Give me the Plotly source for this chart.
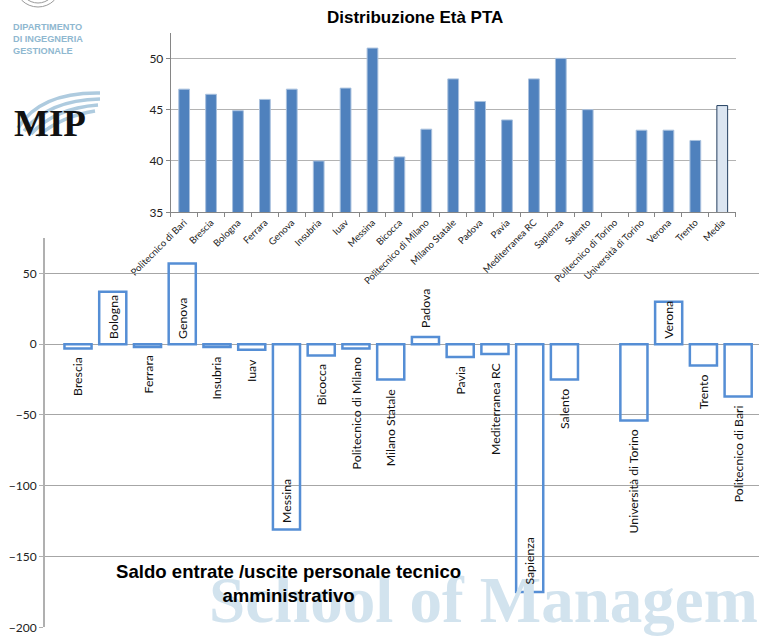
import plotly.graph_objects as go

# ---------------- data ----------------
age_categories = ["Politecnico di Bari", "Brescia", "Bologna", "Ferrara", "Genova", "Insubria",
                  "Iuav", "Messina", "Bicocca", "Politecnico di Milano", "Milano Statale",
                  "Padova", "Pavia", "Mediterranea RC", "Sapienza", "Salento",
                  "Politecnico di Torino", "Università di Torino", "Verona", "Trento", "Media"]
age_values = [47.0, 46.5, 44.9, 46.0, 47.0, 40.0, 47.1, 51.0, 40.4, 43.1, 48.0,
              45.8, 44.0, 48.0, 50.0, 45.0, None, 43.0, 43.0, 42.0, 45.4]

saldo_categories = ["Brescia", "Bologna", "Ferrara", "Genova", "Insubria", "Iuav", "Messina",
                    "Bicocca", "Politecnico di Milano", "Milano Statale", "Padova", "Pavia",
                    "Mediterranea RC", "Sapienza", "Salento", "Politecnico di Torino",
                    "Università di Torino", "Verona", "Trento", "Politecnico di Bari"]
saldo_values = [-3, 37, -2, 57, -2, -4, -131, -8, -3, -25, 5, -9, -7, -175, -25, None,
                -54, 30, -15, -37]

age_ticks = [35, 40, 45, 50]
saldo_ticks = [-200, -150, -100, -50, 0, 50]

W, H = 759, 637
def px(x):
    return x / W
def py(y):
    return 1 - y / H

FONT = "Lato, 'Open Sans', sans-serif"
BAR_BLUE = "#4f81bd"

fig = go.Figure()

# ---------------- top chart ----------------
fill_colors = ["#dbe5f1" if c == "Media" else BAR_BLUE for c in age_categories]
line_colors = ["#243f60" if c == "Media" else "#a9c1de" for c in age_categories]
fig.add_trace(go.Bar(
    x=age_categories, y=age_values, xaxis="x", yaxis="y",
    marker=dict(color=fill_colors, line=dict(color=line_colors, width=1)),
    showlegend=False, hoverinfo="x+y",
))

# ---------------- bottom chart ----------------
fig.add_trace(go.Bar(
    x=saldo_categories, y=saldo_values, xaxis="x2", yaxis="y2",
    marker=dict(color="rgba(255,255,255,0)", line=dict(color="#558ed5", width=2.5)),
    showlegend=False, hoverinfo="x+y",
))

annotations = []

# watermark
annotations.append(dict(
    xref="paper", yref="paper", x=px(207), y=py(638), xanchor="left", yanchor="bottom",
    text="<b>School of Managem</b>", showarrow=False,
    font=dict(family="'Liberation Serif', 'DejaVu Serif', serif", size=65, color="#d2e3ee"),
))

# category labels on bottom chart
for cat, val in zip(saldo_categories, saldo_values):
    if val is None:
        continue
    if val >= 10:          # inside, near the base
        a = dict(y=0, yanchor="bottom", yshift=3)
    elif val >= 0:         # small positive: above
        a = dict(y=val, yanchor="bottom", yshift=7)
    elif val <= -100:      # long negative: inside the end
        a = dict(y=val, yanchor="bottom", yshift=5)
    else:                  # negative: below the end
        a = dict(y=val, yanchor="top", yshift=-7)
    a.update(xref="x2", yref="y2", x=cat, xanchor="center", text=cat, textangle=-90,
             showarrow=False, font=dict(family=FONT, size=12.3, color="#111111"))
    annotations.append(a)

# titles
annotations.append(dict(
    xref="paper", yref="paper", x=px(415), y=py(18), xanchor="center", yanchor="middle",
    text="<b>Distribuzione Età PTA</b>", showarrow=False,
    font=dict(family="'Liberation Sans', Arial, sans-serif", size=17, color="#000000"),
))
annotations.append(dict(
    xref="paper", yref="paper", x=px(288), y=py(583), xanchor="center", yanchor="middle",
    text="<b>Saldo entrate /uscite personale tecnico<br>amministrativo</b>", showarrow=False,
    align="center",
    font=dict(family="'Liberation Sans', Arial, sans-serif", size=18.6, color="#000000"),
))

# logos (decoration)
annotations.append(dict(
    xref="paper", yref="paper", x=px(11), y=py(38.5), xanchor="left", yanchor="middle",
    text="<b>DIPARTIMENTO<br>DI INGEGNERIA<br>GESTIONALE</b>", showarrow=False, align="left",
    font=dict(family="'Liberation Sans', Arial, sans-serif", size=9.2, color="#8fb8d0"),
))
annotations.append(dict(
    xref="paper", yref="paper", x=px(12), y=py(123), xanchor="left", yanchor="middle",
    text="<b>MIP</b>", showarrow=False,
    font=dict(family="'Liberation Serif', serif", size=37, color="#111111"),
))

shapes = []
def path_px(pts):
    (x0, y0), (cx, cy), (x1, y1) = pts
    return f"M {px(x0)},{py(y0)} Q {px(cx)},{py(cy)} {px(x1)},{py(y1)}"
for pts in [((18, 128), (40, 92), (100, 93)),
            ((24, 131), (48, 100), (100, 99)),
            ((31, 134), (55, 108), (98, 105)),
            ((38, 136), (62, 116), (95, 111))]:
    shapes.append(dict(type="path", xref="paper", yref="paper", path=path_px(pts),
                       line=dict(color="#aecbdf", width=3.5), layer="below"))
shapes.append(dict(type="circle", xref="paper", yref="paper",
                   x0=px(15), x1=px(61), y0=py(7), y1=py(-39),
                   line=dict(color="#9a9a9a", width=1)))
shapes.append(dict(type="circle", xref="paper", yref="paper",
                   x0=px(20), x1=px(56), y0=py(3), y1=py(-33),
                   line=dict(color="#9a9a9a", width=1)))

fig.update_layout(
    width=W, height=H,
    margin=dict(l=0, r=0, t=0, b=0),
    paper_bgcolor="white", plot_bgcolor="rgba(0,0,0,0)",
    showlegend=False,
    bargap=0.6,
    font=dict(family=FONT, color="#222222"),
    xaxis=dict(domain=[px(170.7), px(735.7)], anchor="y", type="category",
               categoryorder="array", categoryarray=age_categories,
               showline=True, linecolor="#868686", linewidth=1,
               ticks="outside", tickson="boundaries", ticklen=4, tickcolor="#868686",
               tickangle=-45, tickfont=dict(size=9.5, color="#222222"),
               showgrid=False, automargin=False),
    yaxis=dict(domain=[py(212.3), py(32.7)], anchor="x", range=[35, 52.5],
               tickvals=age_ticks, showline=True, linecolor="#868686", linewidth=1,
               ticks="outside", ticklen=4, tickcolor="#868686",
               showgrid=True, gridcolor="#b3b3b3", gridwidth=1, zeroline=False,
               tickfont=dict(size=12, color="#222222"), automargin=False),
    xaxis2=dict(domain=[px(45), 1.0], anchor="y2", type="category",
                categoryorder="array", categoryarray=saldo_categories,
                range=[-0.95, 19.6], showticklabels=False, ticks="",
                showline=False, showgrid=False, zeroline=False, automargin=False),
    yaxis2=dict(domain=[py(627.3), py(238)], anchor="x2", range=[-200, 75],
                tickvals=saldo_ticks, showline=True, linecolor="#b0b0b0", linewidth=2,
                ticks="outside", ticklen=4, tickcolor="#b0b0b0",
                showgrid=True, gridcolor="#a6a6a6", gridwidth=1, zeroline=False,
                tickfont=dict(size=12, color="#222222"), automargin=False),
    annotations=annotations,
    shapes=shapes,
)
fig.update_traces(selector=dict(xaxis="x2"), width=0.78)

fig.write_html("out.html", config={"displayModeBar": False},
               post_script="document.body.style.margin='0px';document.body.style.overflow='hidden';")
